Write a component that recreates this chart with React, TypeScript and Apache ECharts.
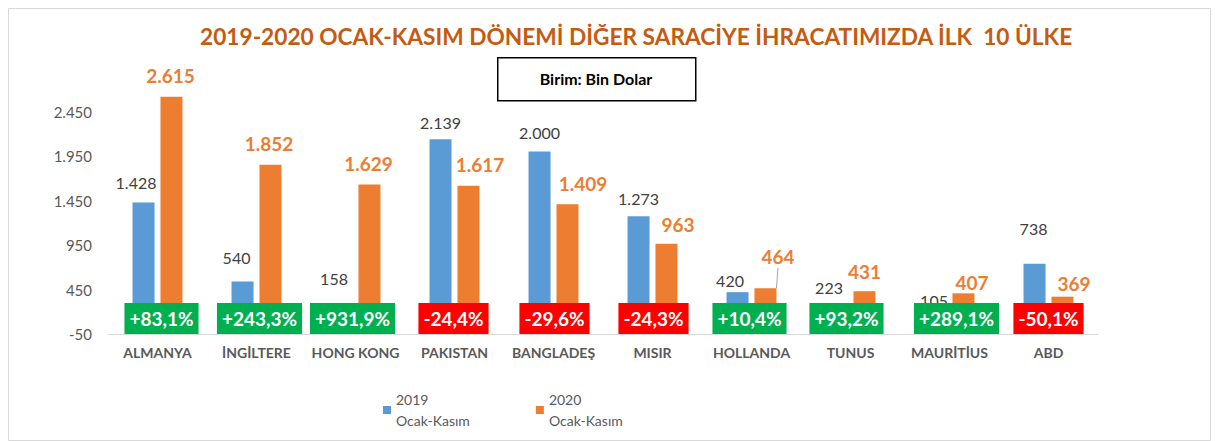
import React, { useEffect, useRef } from "react";
import * as echarts from "echarts";

const categories = ["ALMANYA", "İNGİLTERE", "HONG KONG", "PAKISTAN", "BANGLADEŞ", "MISIR", "HOLLANDA", "TUNUS", "MAURİTİUS", "ABD"];
const values2019 = [1428, 540, 158, 2139, 2000, 1273, 420, 223, 105, 738];
const values2020 = [2615, 1852, 1629, 1617, 1409, 963, 464, 431, 407, 369];
const changeLabels = ["+83,1%", "+243,3%", "+931,9%", "-24,4%", "-29,6%", "-24,3%", "+10,4%", "+93,2%", "+289,1%", "-50,1%"];
const seriesNames = ["2019 Ocak-Kasım", "2020 Ocak-Kasım"];
const yMin = -50;
const yMax = 2950;
const yInterval = 500;

// label nudges (styling only)
const offsets2019 = [[-7.5, -2], [-6, -6], [-7.5, -19], [0, 1], [0, -1], [0, 0], [-7.5, 6], [-7.5, -4], [-1.5, -2], [-1, -17]];
const offsets2020 = [[-1, 0], [-1.5, 0], [-1, 0], [11.5, 0], [15.5, 0], [11.5, 1.5], [12.5, -10.5], [0, 1.5], [8.5, 10.5], [11.5, 7.5]];
const badgeOffsets = [4, 3, -3, -1, 1, 1, -2, -4, 7, 0];
const badgeLevel = 124;

const fmt = (v: number) => {
  const s = Math.abs(Math.round(v)).toString().replace(/\B(?=(\d{3})+(?!\d))/g, ".");
  return (v < 0 ? "-" : "") + s;
};

const FONT = "Lato, 'Open Sans', sans-serif";

export default function App() {
  const ref = useRef<HTMLDivElement>(null);
  useEffect(() => {
    if (!ref.current) return;
    const chart = echarts.init(ref.current, null, { renderer: "svg" });
    const option: any = {
      animation: false,
      backgroundColor: "#ffffff",
      textStyle: { fontFamily: FONT },
      title: {
        text: "2019-2020 OCAK-KASIM DÖNEMİ DİĞER SARACİYE İHRACATIMIZDA İLK  10 ÜLKE",
        left: 195,
        top: 20,
        textStyle: { color: "#C55A11", fontSize: 22.7, fontWeight: "bold", fontFamily: FONT },
      },
      legend: {
        data: seriesNames,
        left: 378,
        top: 384,
        itemWidth: 8,
        itemHeight: 8,
        itemGap: 66,
        icon: "rect",
        formatter: (n: string) => n.replace(" ", "\n"),
        textStyle: { color: "#595959", fontSize: 14, lineHeight: 21, fontFamily: FONT },
      },
      grid: { left: 108, right: 117, top: 67, bottom: 107, containLabel: false },
      xAxis: {
        type: "category",
        data: categories,
        axisLine: { onZero: false, lineStyle: { color: "#d9d9d9", width: 1 } },
        axisTick: { show: false },
        axisLabel: { color: "#595959", fontSize: 14, fontWeight: "bold", margin: 11, fontFamily: FONT, interval: 0 },
      },
      yAxis: {
        type: "value",
        min: yMin,
        max: yMax,
        interval: yInterval,
        splitLine: { show: false },
        axisLine: { show: false },
        axisTick: { show: false },
        axisLabel: { color: "#595959", fontSize: 15, margin: 16, showMaxLabel: false, formatter: (v: number) => fmt(v), fontFamily: FONT },
      },
      series: [
        {
          name: seriesNames[0],
          type: "bar",
          barWidth: 22,
          barGap: "27%",
          itemStyle: { color: "#5B9BD5" },
          data: values2019,
          label: {
            show: true,
            position: "top",
            distance: 9,
            color: "#404040",
            fontSize: 16,
            lineHeight: 18,
            fontFamily: FONT,
            formatter: (p: any) => fmt(p.value),
          },
          labelLayout: (p: any) => ({ dx: offsets2019[p.dataIndex][0], dy: offsets2019[p.dataIndex][1] }),
          z: 2,
        },
        {
          name: seriesNames[1],
          type: "bar",
          barWidth: 22,
          barGap: "27%",
          itemStyle: { color: "#ED7D31" },
          data: values2020.map((v, i) =>
            i === 6 ? { value: v, labelLine: { show: true, lineStyle: { color: "#a6a6a6", width: 1 } } } : v
          ),
          label: {
            show: true,
            position: "top",
            distance: 10,
            color: "#ED7D31",
            fontSize: 19,
            fontWeight: "bold",
            lineHeight: 22,
            fontFamily: FONT,
            formatter: (p: any) => fmt(p.value),
          },
          labelLine: { show: false },
          labelLayout: (p: any) => ({ dx: offsets2020[p.dataIndex][0], dy: offsets2020[p.dataIndex][1] }),
          z: 2,
        },
        {
          name: "change",
          type: "scatter",
          symbol: "rect",
          symbolSize: 1,
          itemStyle: { color: "rgba(0,0,0,0)", opacity: 1 },
          z: 10,
          data: changeLabels.map((t, i) => ({
            value: [i, badgeLevel],
            label: { backgroundColor: t.startsWith("-") ? "#FF0000" : "#00B050" },
          })),
          label: {
            show: true,
            position: "inside",
            color: "#ffffff",
            opacity: 1,
            fontSize: 19,
            fontWeight: "bold",
            lineHeight: 21,
            padding: [5, 5, 5, 5],
            fontFamily: FONT,
            formatter: (p: any) => changeLabels[p.dataIndex],
          },
          labelLayout: (p: any) => ({ dx: badgeOffsets[p.dataIndex], hideOverlap: false }),
        },
      ],
      graphic: [
        {
          type: "rect",
          left: 6,
          top: 6,
          shape: { width: 1202, height: 432 },
          style: { fill: "none", stroke: "#d9d9d9", lineWidth: 1 },
          silent: true,
        },
        {
          type: "rect",
          left: 497,
          top: 57,
          shape: { width: 198, height: 43 },
          style: { fill: "#ffffff", stroke: "#000000", lineWidth: 1.5 },
        },
        {
          type: "text",
          x: 596,
          y: 78,
          style: {
            text: "Birim: Bin Dolar",
            fill: "#000000",
            font: "bold 16px " + FONT,
            textAlign: "center",
            textVerticalAlign: "middle",
          },
        },
      ],
    };
    chart.setOption(option);
    return () => chart.dispose();
  }, []);
  return <div ref={ref} style={{ position: "fixed", left: 0, top: 0, width: 1215, height: 441 }} />;
}
